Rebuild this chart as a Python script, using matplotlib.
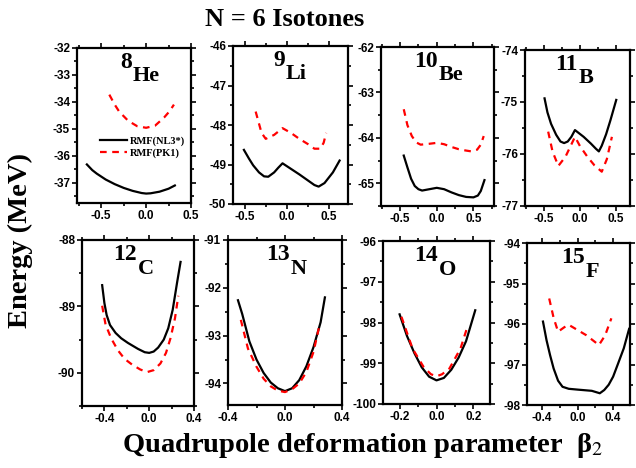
import numpy as np
import matplotlib
matplotlib.use("Agg")
import matplotlib.pyplot as plt
from matplotlib.ticker import AutoMinorLocator, FormatStrFormatter

plt.rcParams['mathtext.fontset'] = 'stix'

# ---- data: beta2 and energy (MeV) for each nucleus, NL3* (solid) and PK1 (dashed)
mass = ['8', '9', '10', '11', '12', '13', '14', '15']
elem = ['He', 'Li', 'Be', 'B', 'C', 'N', 'O', 'F']

b_he8_nl3 = [-0.66, -0.6, -0.55, -0.45, -0.35, -0.25, -0.15, -0.05, 0.0, 0.05, 0.15, 0.25, 0.32]
e_he8_nl3 = [-36.32, -36.53, -36.66, -36.88, -37.05, -37.19, -37.30, -37.38, -37.40, -37.39, -37.33, -37.22, -37.10]
b_he8_pk1 = [-0.41, -0.35, -0.3, -0.2, -0.1, 0.0, 0.1, 0.2, 0.26, 0.31]
e_he8_pk1 = [-33.73, -34.1, -34.36, -34.70, -34.90, -34.96, -34.88, -34.58, -34.35, -34.10]

b_li9_nl3 = [-0.51, -0.45, -0.4, -0.33, -0.27, -0.22, -0.15, -0.1, -0.05, 0.05, 0.15, 0.25, 0.33, 0.38, 0.45, 0.55, 0.63]
e_li9_nl3 = [-48.63, -48.85, -49.02, -49.2, -49.3, -49.31, -49.2, -49.08, -48.97, -49.11, -49.25, -49.4, -49.52, -49.56, -49.47, -49.2, -48.9]
b_li9_pk1 = [-0.37, -0.3, -0.25, -0.15, -0.05, 0.05, 0.15, 0.25, 0.33, 0.4, 0.44, 0.47]
e_li9_pk1 = [-47.66, -48.2, -48.35, -48.25, -48.08, -48.2, -48.35, -48.48, -48.6, -48.6, -48.45, -48.2]

b_be10_nl3 = [-0.45, -0.4, -0.35, -0.3, -0.25, -0.2, -0.1, 0.0, 0.1, 0.2, 0.3, 0.4, 0.5, 0.56, 0.6, 0.65]
e_be10_nl3 = [-64.39, -64.65, -64.9, -65.06, -65.13, -65.16, -65.13, -65.1, -65.13, -65.2, -65.26, -65.3, -65.31, -65.27, -65.17, -64.93]
b_be10_pk1 = [-0.45, -0.4, -0.34, -0.28, -0.22, -0.1, 0.0, 0.1, 0.2, 0.3, 0.4, 0.48, 0.55, 0.6, 0.64]
e_be10_pk1 = [-63.37, -63.72, -63.96, -64.1, -64.15, -64.13, -64.11, -64.14, -64.2, -64.25, -64.28, -64.3, -64.26, -64.15, -63.96]

b_b11_nl3 = [-0.49, -0.45, -0.4, -0.33, -0.27, -0.22, -0.17, -0.12, -0.07, 0.05, 0.15, 0.22, 0.26, 0.3, 0.36, 0.42, 0.5]
e_b11_nl3 = [-74.93, -75.2, -75.42, -75.63, -75.76, -75.79, -75.76, -75.67, -75.54, -75.67, -75.8, -75.9, -75.95, -75.84, -75.62, -75.35, -74.96]
b_b11_pk1 = [-0.44, -0.38, -0.3, -0.2, -0.07, 0.0, 0.1, 0.2, 0.3, 0.37, 0.44]
e_b11_pk1 = [-75.57, -75.95, -76.23, -76.05, -75.67, -75.85, -76.05, -76.22, -76.34, -76.1, -75.67]

b_c12_nl3 = [-0.42, -0.4, -0.38, -0.35, -0.3, -0.25, -0.19, -0.1, -0.04, 0.0, 0.04, 0.08, 0.13, 0.17, 0.21, 0.25, 0.28]
e_c12_nl3 = [-88.68, -88.95, -89.13, -89.28, -89.4, -89.48, -89.55, -89.64, -89.69, -89.7, -89.68, -89.62, -89.5, -89.33, -89.05, -88.63, -88.33]
b_c12_pk1 = [-0.42, -0.39, -0.34, -0.28, -0.22, -0.15, -0.08, -0.02, 0.04, 0.1, 0.15, 0.19, 0.23, 0.26]
e_c12_pk1 = [-88.99, -89.27, -89.48, -89.66, -89.79, -89.88, -89.95, -89.99, -89.96, -89.86, -89.7, -89.48, -89.18, -88.84]

b_n13_nl3 = [-0.33, -0.3, -0.25, -0.2, -0.15, -0.1, -0.05, 0.0, 0.05, 0.1, 0.15, 0.2, 0.25, 0.28]
e_n13_nl3 = [-92.26, -92.55, -93.12, -93.5, -93.78, -93.98, -94.1, -94.16, -94.1, -93.93, -93.64, -93.24, -92.72, -92.2]
b_n13_pk1 = [-0.31, -0.26, -0.2, -0.15, -0.1, -0.05, 0.0, 0.05, 0.1, 0.15, 0.2, 0.24]
e_n13_pk1 = [-92.67, -93.27, -93.65, -93.9, -94.06, -94.15, -94.18, -94.12, -94.0, -93.76, -93.34, -92.81]

b_o14_nl3 = [-0.2, -0.16, -0.12, -0.08, -0.04, 0.0, 0.04, 0.08, 0.12, 0.16, 0.21]
e_o14_nl3 = [-97.8, -98.33, -98.75, -99.1, -99.33, -99.42, -99.36, -99.16, -98.86, -98.46, -97.7]
b_o14_pk1 = [-0.19, -0.13, -0.07, -0.03, 0.0, 0.03, 0.07, 0.13, 0.17]
e_o14_pk1 = [-97.86, -98.64, -99.09, -99.27, -99.32, -99.27, -99.13, -98.64, -98.07]

b_f15_nl3 = [-0.39, -0.35, -0.31, -0.27, -0.22, -0.17, -0.1, 0.0, 0.16, 0.22, 0.25, 0.3, 0.35, 0.4, 0.45, 0.52, 0.58]
e_f15_nl3 = [-95.94, -96.4, -96.77, -97.1, -97.4, -97.55, -97.6, -97.62, -97.65, -97.69, -97.71, -97.63, -97.5, -97.3, -97.01, -96.6, -96.12]
b_f15_pk1 = [-0.32, -0.27, -0.22, -0.15, -0.1, 0.0, 0.1, 0.17, 0.24, 0.31, 0.38]
e_f15_pk1 = [-95.37, -95.85, -96.19, -96.08, -96.02, -96.15, -96.28, -96.4, -96.52, -96.28, -95.86]

nl3 = [(b_he8_nl3, e_he8_nl3), (b_li9_nl3, e_li9_nl3), (b_be10_nl3, e_be10_nl3), (b_b11_nl3, e_b11_nl3),
       (b_c12_nl3, e_c12_nl3), (b_n13_nl3, e_n13_nl3), (b_o14_nl3, e_o14_nl3), (b_f15_nl3, e_f15_nl3)]
pk1 = [(b_he8_pk1, e_he8_pk1), (b_li9_pk1, e_li9_pk1), (b_be10_pk1, e_be10_pk1), (b_b11_pk1, e_b11_pk1),
       (b_c12_pk1, e_c12_pk1), (b_n13_pk1, e_n13_pk1), (b_o14_pk1, e_o14_pk1), (b_f15_pk1, e_f15_pk1)]

# ---- layout (pixel boxes x0, x1, y0, y1 measured from top-left) and axis ranges
W, H = 636, 468
boxes = [(77, 191, 48, 203), (233, 348, 46, 204), (381, 494, 47, 206), (525, 630, 50, 206),
         (82, 194, 240, 406), (228, 342, 240, 405), (383, 490, 241, 404), (527, 630, 243, 405)]
xlims = [(-0.77, 0.5), (-0.64, 0.73), (-0.76, 0.78), (-0.76, 0.69),
         (-0.6, 0.4), (-0.4, 0.4), (-0.29, 0.29), (-0.57, 0.59)]
ylims = [(-37.75, -32), (-50, -46), (-65.5, -62), (-77, -74),
         (-90.5, -88), (-94.45, -91), (-100, -96), (-98, -94)]
xstep = [0.5, 0.5, 0.5, 0.5, 0.4, 0.4, 0.2, 0.4]
lab_x = [0.48, 0.45, 0.5, 0.5, 0.49, 0.54, 0.51, 0.56]

sans = 'Liberation Sans'
serif = 'Liberation Serif'

fig = plt.figure(figsize=(W / 100, H / 100), dpi=100)

for i in range(8):
    x0, x1, y0, y1 = boxes[i]
    ax = fig.add_axes([x0 / W, 1 - y1 / H, (x1 - x0) / W, (y1 - y0) / H])
    b, e = nl3[i]
    ax.plot(b, e, color='black', lw=1.6, label='RMF(NL3*)', solid_joinstyle='round')
    b, e = pk1[i]
    ax.plot(b, e, color='red', lw=1.6, linestyle=(0, (3, 2.5)), label='RMF(PK1)')
    ax.set_xlim(*xlims[i])
    ax.set_ylim(*ylims[i])
    s = xstep[i]
    ax.set_xticks([-s, 0, s])
    ax.xaxis.set_major_formatter(FormatStrFormatter('%.1f'))
    ax.yaxis.set_major_locator(plt.MultipleLocator(1))
    ax.yaxis.set_major_formatter(FormatStrFormatter('%d'))
    ax.xaxis.set_minor_locator(AutoMinorLocator(2))
    ax.yaxis.set_minor_locator(AutoMinorLocator(2))
    ax.tick_params(which='both', direction='out', top=True, right=True, width=1.2,
                   labelsize=8.5, pad=1.5)
    ax.tick_params(which='major', length=3.5)
    ax.tick_params(which='minor', length=2)
    for lbl in ax.get_xticklabels() + ax.get_yticklabels():
        lbl.set_fontfamily(sans)
        lbl.set_fontweight('bold')
    for sp in ax.spines.values():
        sp.set_linewidth(1.6)
    ax.text(lab_x[i], 0.975, mass[i], transform=ax.transAxes, ha='right', va='top',
            fontsize=17, fontweight='bold', family=serif)
    ax.text(lab_x[i] + 0.01, 0.885, elem[i], transform=ax.transAxes, ha='left', va='top',
            fontsize=16, fontweight='bold', family=serif)
    if i == 0:
        ax.legend(loc='center left', bbox_to_anchor=(0.2, 0.36), frameon=False,
                  prop={'family': serif, 'weight': 'bold', 'size': 7.5},
                  handlelength=2.6, handletextpad=0.3, labelspacing=0.3,
                  borderpad=0, borderaxespad=0)

fig.text(285 / W, 1 - 20 / H, 'N = 6 Isotones', ha='center', va='center',
         fontsize=19, fontweight='bold', family=serif)
fig.text(20 / W, 1 - 240 / H, 'Energy (MeV)', ha='center', va='center', rotation=90,
         fontsize=20.5, fontweight='bold', family=serif)
fig.text(363 / W, 1 - 446 / H, 'Quadrupole deformation parameter  β$_2$', ha='center',
         va='center', fontsize=20.5, fontweight='bold', family=serif)

fig.savefig('out.png', dpi=100)
